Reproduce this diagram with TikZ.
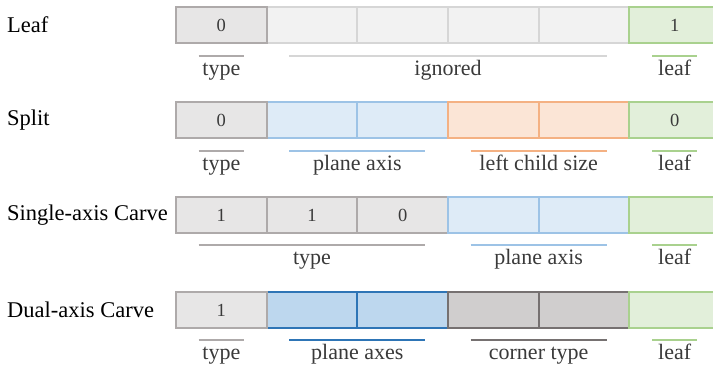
\documentclass[tikz,border=0pt]{standalone}
\usepackage{fontspec}
\setmainfont{Liberation Serif}
\definecolor{txt}{HTML}{3A3A3A}
\definecolor{typefill}{HTML}{E7E6E6}\definecolor{typedraw}{HTML}{AEAAAA}
\definecolor{ignfill}{HTML}{F2F2F2}\definecolor{igndraw}{HTML}{D6D6D6}
\definecolor{leaffill}{HTML}{E2EFDA}\definecolor{leafdraw}{HTML}{A9D18E}
\definecolor{axfill}{HTML}{DEEBF7}\definecolor{axdraw}{HTML}{9DC3E6}
\definecolor{szfill}{HTML}{FBE5D6}\definecolor{szdraw}{HTML}{F4B183}
\definecolor{axsfill}{HTML}{BDD7EE}\definecolor{axsdraw}{HTML}{2E75B6}
\definecolor{cnfill}{HTML}{D0CECE}\definecolor{cndraw}{HTML}{767171}
\begin{document}
\begin{tikzpicture}[x=1pt,y=-1pt,
  cell/.style={line width=2pt, minimum width=90.67pt, minimum height=36pt,
    inner sep=0pt, text=txt, font=\fontsize{18.5}{22}\selectfont},
  typecell/.style={cell, fill=typefill, draw=typedraw},
  igncell/.style={cell, fill=ignfill, draw=igndraw},
  leafcell/.style={cell, fill=leaffill, draw=leafdraw},
  axcell/.style={cell, fill=axfill, draw=axdraw},
  szcell/.style={cell, fill=szfill, draw=szdraw},
  axscell/.style={cell, fill=axsfill, draw=axsdraw},
  cncell/.style={cell, fill=cnfill, draw=cndraw},
  bar/.style={line width=2.5pt},
  lbl/.style={anchor=base, inner sep=0pt, text=txt, font=\fontsize{22}{26}\selectfont},
  title/.style={anchor=west, inner sep=0pt, text=black, font=\fontsize{22.5}{26}\selectfont},
]
\useasboundingbox (0,0) rectangle (713,368);
\begin{scope}
\clip (0,0) rectangle (713,368);

% ---------- Leaf ----------
\node[title] (tleaf) at (7,25) {Leaf};
\node[igncell] (l2) at (312,25) {};
\node[igncell] (l3) at (402.67,25) {};
\node[igncell] (l4) at (493.33,25) {};
\node[igncell] (l5) at (584,25) {};
\node[typecell] (l1) at (221.33,25) {0};
\node[leafcell] (l6) at (674.67,25) {1};
\draw[bar, typedraw] (198.67,56) -- (244,56);
\draw[bar, igndraw] (289.33,56) -- (606.67,56);
\draw[bar, leafdraw] (652,56) -- (697.33,56);
\node[lbl] (ll1) at (221.33,75) {type};
\node[lbl] (ll2) at (448,75) {ignored};
\node[lbl] (ll3) at (674.67,75) {leaf};

% ---------- Split ----------
\node[title] (tsplit) at (7,120) {Split};
\node[axcell] (s2) at (312,120) {};
\node[axcell] (s3) at (402.67,120) {};
\node[typecell] (s1) at (221.33,120) {0};
\node[szcell] (s4) at (493.33,120) {};
\node[szcell] (s5) at (584,120) {};
\node[leafcell] (s6) at (674.67,120) {0};
\draw[bar, typedraw] (198.67,151) -- (244,151);
\draw[bar, axdraw] (289.33,151) -- (425.33,151);
\draw[bar, szdraw] (470.67,151) -- (606.67,151);
\draw[bar, leafdraw] (652,151) -- (697.33,151);
\node[lbl] (sl1) at (221.33,170) {type};
\node[lbl] (sl2) at (357.33,170) {plane axis};
\node[lbl] (sl3) at (538.67,170) {left child size};
\node[lbl] (sl4) at (674.67,170) {leaf};

% ---------- Single-axis Carve ----------
\node[title] (tsingle) at (7,215) {Single-axis Carve};
\node[typecell] (c1) at (221.33,215) {1};
\node[typecell] (c2) at (312,215) {1};
\node[typecell] (c3) at (402.67,215) {0};
\node[axcell] (c4) at (493.33,215) {};
\node[axcell] (c5) at (584,215) {};
\node[leafcell] (c6) at (674.67,215) {};
\draw[bar, typedraw] (198.67,245) -- (425.33,245);
\draw[bar, axdraw] (470.67,245) -- (606.67,245);
\draw[bar, leafdraw] (652,245) -- (697.33,245);
\node[lbl] (cl1) at (312,264) {type};
\node[lbl] (cl2) at (538.67,264) {plane axis};
\node[lbl] (cl3) at (674.67,264) {leaf};

% ---------- Dual-axis Carve ----------
\node[title] (tdual) at (7,310) {Dual-axis Carve};
\node[axscell] (d2) at (312,310) {};
\node[axscell] (d3) at (402.67,310) {};
\node[typecell] (d1) at (221.33,310) {1};
\node[cncell] (d4) at (493.33,310) {};
\node[cncell] (d5) at (584,310) {};
\node[leafcell] (d6) at (674.67,310) {};
\draw[bar, typedraw] (198.67,340) -- (244,340);
\draw[bar, axsdraw] (289.33,340) -- (425.33,340);
\draw[bar, cndraw] (470.67,340) -- (606.67,340);
\draw[bar, leafdraw] (652,340) -- (697.33,340);
\node[lbl] (dl1) at (221.33,359) {type};
\node[lbl] (dl2) at (357.33,359) {plane axes};
\node[lbl] (dl3) at (538.67,359) {corner type};
\node[lbl] (dl4) at (674.67,359) {leaf};
\end{scope}
\end{tikzpicture}
\end{document}
